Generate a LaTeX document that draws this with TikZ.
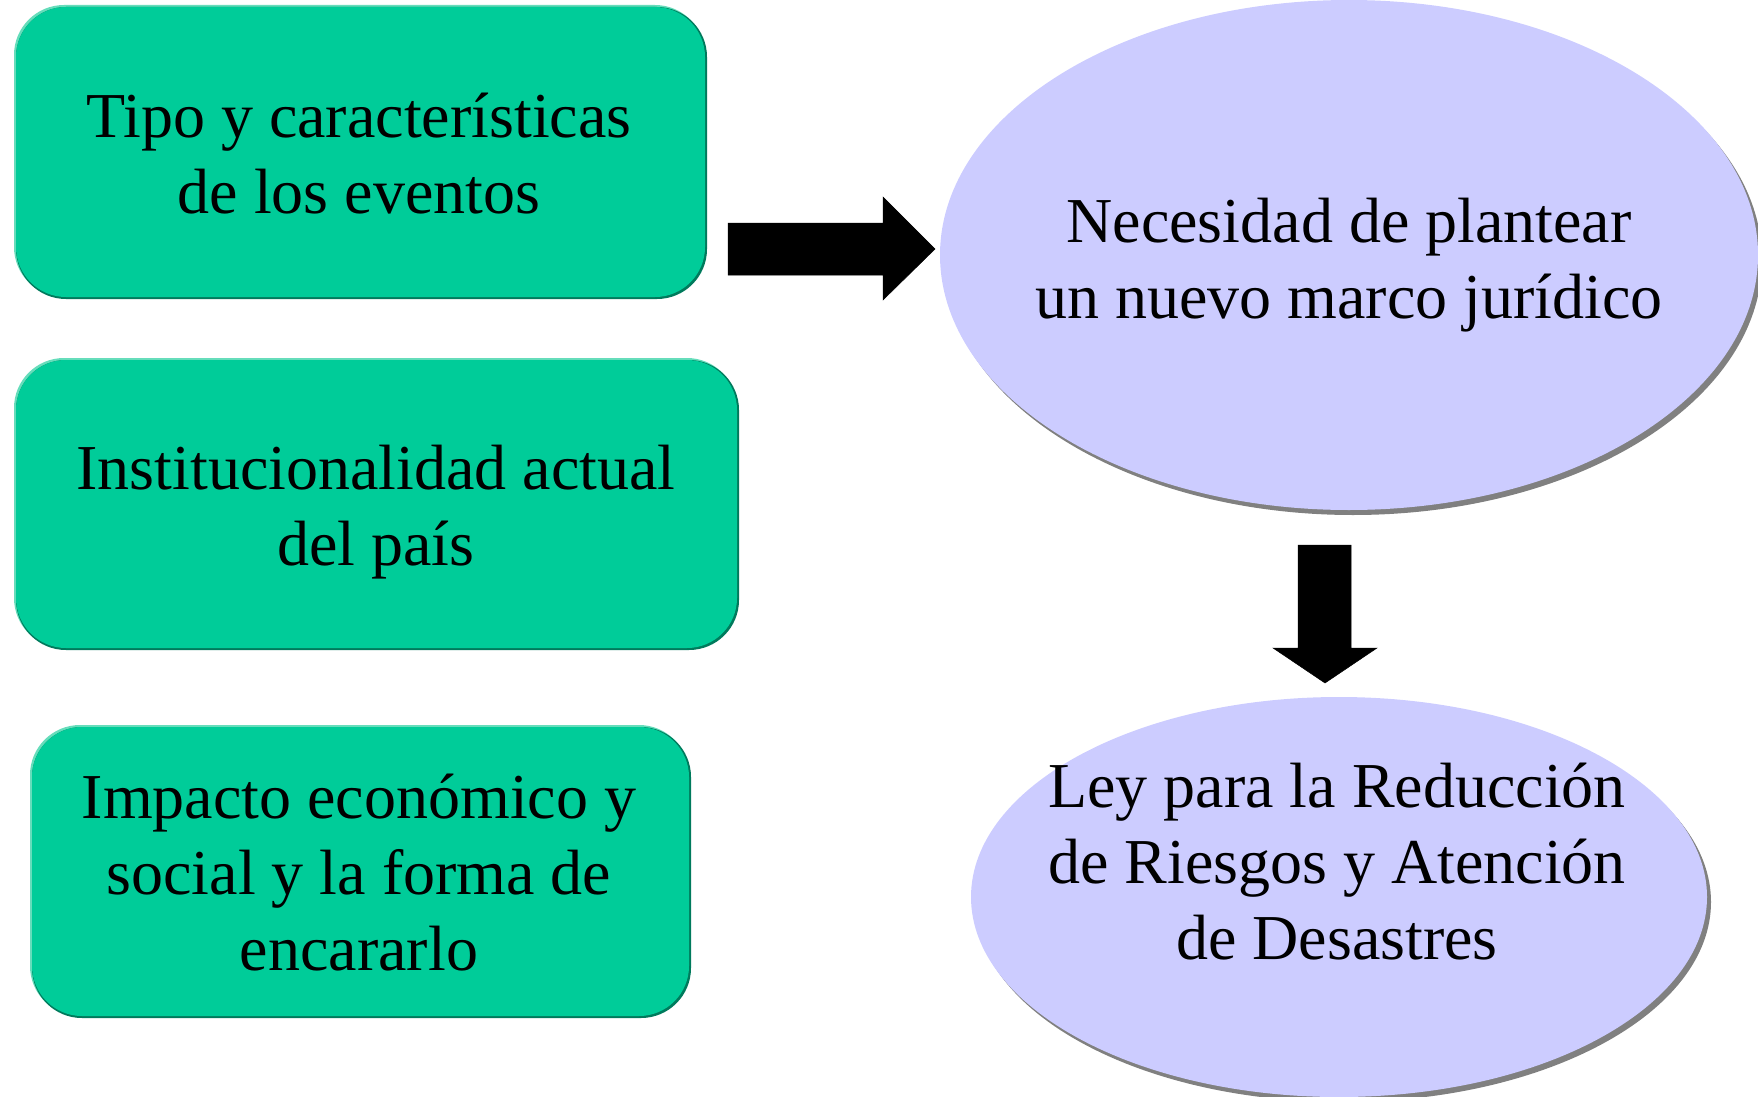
\documentclass[tikz,border=0pt]{standalone}
\usepackage{fontspec}
\setmainfont{Liberation Serif}
\usetikzlibrary{shapes.geometric,shadows}
\definecolor{boxgreen}{HTML}{00CC99}
\definecolor{boxdark}{HTML}{007A5C}
\definecolor{boxlight}{HTML}{66DDBB}
\definecolor{ellfill}{HTML}{CCCCFF}
\definecolor{shadowgray}{HTML}{808080}
\tikzset{
  bigtext/.style={font=\fontsize{64}{76}\selectfont, align=center, text=black},
  greenbox/.style={rectangle, rounded corners=50pt, fill=boxgreen, inner sep=0pt},
  bevdark/.style={rectangle, rounded corners=50pt, fill=boxdark, inner sep=0pt},
  bevlight/.style={rectangle, rounded corners=50pt, fill=boxlight, inner sep=0pt},
  bubble/.style={ellipse, fill=ellfill, inner sep=0pt,
    drop shadow={shadow xshift=4pt, shadow yshift=-5pt, fill=shadowgray, opacity=1}},
  blockarrow/.style={fill=black, draw=black, line width=0.5pt}
}
\begin{document}
\begin{tikzpicture}[x=1pt,y=-1pt]
\useasboundingbox (0,0) rectangle (1758,1097);
% bevel layers
\node[bevlight, minimum width=691pt, minimum height=292pt] at (359.5,151) {};
\node[bevdark, minimum width=691pt, minimum height=292pt] at (361.5,153) {};
\node[bevlight, minimum width=723pt, minimum height=290pt] at (375.5,503) {};
\node[bevdark, minimum width=723pt, minimum height=290pt] at (377.5,505) {};
\node[bevlight, minimum width=659pt, minimum height=291pt] at (359.5,870.5) {};
\node[bevdark, minimum width=659pt, minimum height=291pt] at (361.5,872.5) {};
% boxes
\node[greenbox, minimum width=689pt, minimum height=290pt] (b1) at (360.5,152) {};
\node[bigtext] (b1t) at (359,154) {Tipo y características\\de los eventos};
\node[greenbox, minimum width=721pt, minimum height=288pt] (b2) at (376.5,504) {};
\node[bigtext] (b2t) at (376,512) {Institucionalidad actual\\del país};
\node[greenbox, minimum width=657pt, minimum height=289pt] (b3) at (360.5,871.5) {};
\node[bigtext] (b3t) at (359,873) {Impacto económico y\\social y la forma de\\encararlo};
% ellipses
\node[bubble, minimum width=818pt, minimum height=510pt] (e1) at (1349,255) {};
\node[bigtext] (e1t) at (1349,265) {Necesidad de plantear\\un nuevo marco jurídico};
\node[bubble, minimum width=736pt, minimum height=400pt] (e2) at (1339,897) {};
\node[bigtext] (e2t) at (1337,862) {Ley para la Reducción\\de Riesgos y Atención\\de Desastres};
% block arrows
\draw[blockarrow] (728,223) -- (883,223) -- (883,197) -- (935,249) -- (883,300) -- (883,275) -- (728,275) -- cycle;
\draw[blockarrow] (1298,545) -- (1351,545) -- (1351,648) -- (1377,648) -- (1325,683) -- (1273,648) -- (1298,648) -- cycle;
\end{tikzpicture}
\end{document}
